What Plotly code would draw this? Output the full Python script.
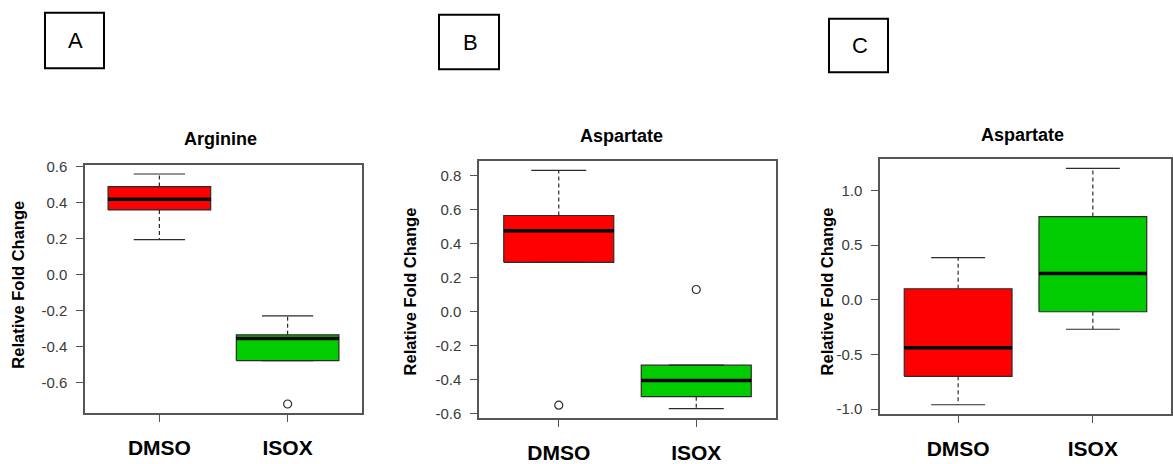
import plotly.graph_objects as go

# ---- data -------------------------------------------------------------
categories = ["DMSO", "ISOX"]
panel_letters = ["A", "B", "C"]
panel_titles = ["Arginine", "Aspartate", "Aspartate"]
y_label = "Relative Fold Change"

# five-number summaries per panel, one entry per category (DMSO, ISOX)
lower_whisker = [[0.195, -0.478], [0.29, -0.57], [-0.96, -0.27]]
q1_values = [[0.36, -0.478], [0.29, -0.50], [-0.70, -0.11]]
median_values = [[0.42, -0.355], [0.475, -0.405], [-0.44, 0.24]]
q3_values = [[0.49, -0.335], [0.565, -0.315], [0.10, 0.76]]
upper_whisker = [[0.56, -0.23], [0.83, -0.315], [0.385, 1.20]]
outlier_values = [[[], [-0.72]], [[-0.55], [0.13]], [[], []]]

y_tick_values = [
    [-0.6, -0.4, -0.2, 0.0, 0.2, 0.4, 0.6],
    [-0.6, -0.4, -0.2, 0.0, 0.2, 0.4, 0.6, 0.8],
    [-1.0, -0.5, 0.0, 0.5, 1.0],
]

# ---- styling / layout -------------------------------------------------
W, H = 1173, 464
FONT = "Liberation Sans"
fill_colors = ["#FF0000", "#00CC00"]
EDGE = "#2b2b2b"
FRAME = "#555555"
BOX_HALF = 0.4      # half box width in category units
CAP_HALF = 0.2      # half staple width

# plot rectangles in pixels: (left, top, right, bottom)
plot_px = [(85, 162, 362, 417), (479, 158, 776, 422), (880, 156, 1171, 418)]
title_px = [(220, 135), (621, 132), (1022, 131)]
ylabel_px = [(18, 285), (410, 292), (827, 292)]
letter_box_px = [(45, 6, 104, 63), (439, 8, 499, 64), (829, 12, 888, 67)]


def px_x(x):
    return x / W


def px_y(y):
    return 1 - y / H


fig = go.Figure()
layout = dict(
    width=W, height=H,
    margin=dict(l=0, r=0, t=0, b=0),
    paper_bgcolor="white", plot_bgcolor="white",
    showlegend=False,
    annotations=[], shapes=[],
)

for p in range(3):
    suffix = "" if p == 0 else str(p + 1)
    xa, ya = "x" + suffix, "y" + suffix
    for j in range(len(categories)):
        c = j + 1
        lo, a, m, b, hi = (lower_whisker[p][j], q1_values[p][j], median_values[p][j],
                           q3_values[p][j], upper_whisker[p][j])
        # box body
        fig.add_trace(go.Scatter(
            x=[c - BOX_HALF, c + BOX_HALF, c + BOX_HALF, c - BOX_HALF, c - BOX_HALF],
            y=[a, a, b, b, a], mode="lines", fill="toself",
            fillcolor=fill_colors[j], line=dict(color=EDGE, width=1.2),
            xaxis=xa, yaxis=ya, hoverinfo="skip"))
        # dashed whiskers
        fig.add_trace(go.Scatter(
            x=[c, c, None, c, c], y=[b, hi, None, a, lo], mode="lines",
            line=dict(color=EDGE, width=1.2, dash="4px,3px"),
            xaxis=xa, yaxis=ya, hoverinfo="skip"))
        # staples
        fig.add_trace(go.Scatter(
            x=[c - CAP_HALF, c + CAP_HALF, None, c - CAP_HALF, c + CAP_HALF],
            y=[hi, hi, None, lo, lo], mode="lines",
            line=dict(color=EDGE, width=1.2),
            xaxis=xa, yaxis=ya, hoverinfo="skip"))
        # median
        fig.add_trace(go.Scatter(
            x=[c - BOX_HALF, c + BOX_HALF], y=[m, m], mode="lines",
            line=dict(color="black", width=3.5),
            xaxis=xa, yaxis=ya, hoverinfo="skip"))
        # outliers
        if outlier_values[p][j]:
            fig.add_trace(go.Scatter(
                x=[c] * len(outlier_values[p][j]), y=outlier_values[p][j],
                mode="markers",
                marker=dict(symbol="circle-open", size=8, color=EDGE, line=dict(width=1.2)),
                xaxis=xa, yaxis=ya, hoverinfo="skip"))

    # R-style axis limits: data range padded by 4 %
    all_vals = lower_whisker[p] + upper_whisker[p] + sum(outlier_values[p], [])
    vmin, vmax = min(all_vals), max(all_vals)
    pad = 0.04 * (vmax - vmin)
    n = len(categories)
    xpad = 0.04 * n

    left, top, right, bottom = plot_px[p]
    layout["xaxis" + suffix] = dict(
        domain=[px_x(left), px_x(right)], anchor=ya,
        range=[0.5 - xpad, n + 0.5 + xpad],
        tickmode="array", tickvals=list(range(1, n + 1)), ticktext=categories,
        ticks="outside", ticklen=7, tickwidth=1.2, tickcolor=FRAME,
        ticklabelstandoff=8,
        tickfont=dict(family=FONT, size=21, color="black", weight="bold"),
        showline=True, linecolor=FRAME, linewidth=1.5, mirror=True,
        showgrid=False, zeroline=False, fixedrange=True,
    )
    layout["yaxis" + suffix] = dict(
        domain=[px_y(bottom), px_y(top)], anchor=xa,
        range=[vmin - pad, vmax + pad],
        tickmode="array", tickvals=y_tick_values[p],
        ticktext=[f"{v:.1f}" for v in y_tick_values[p]],
        ticks="outside", ticklen=7, tickwidth=1.2, tickcolor=FRAME,
        ticklabelstandoff=6,
        tickfont=dict(family=FONT, size=15, color="#3a3a3a"),
        showline=True, linecolor=FRAME, linewidth=1.5, mirror=True,
        showgrid=False, zeroline=False, fixedrange=True,
    )

    tx, ty = title_px[p]
    layout["annotations"].append(dict(
        text=panel_titles[p], x=px_x(tx), y=px_y(ty), xref="paper", yref="paper",
        xanchor="center", yanchor="middle", showarrow=False,
        font=dict(family=FONT, size=18, color="black", weight="bold")))

    lx, ly = ylabel_px[p]
    layout["annotations"].append(dict(
        text=y_label, x=px_x(lx), y=px_y(ly), xref="paper", yref="paper",
        xanchor="center", yanchor="middle", showarrow=False, textangle=-90,
        font=dict(family=FONT, size=16.5, color="black", weight="bold")))

    bx0, by0, bx1, by1 = letter_box_px[p]
    layout["shapes"].append(dict(
        type="rect", xref="paper", yref="paper",
        x0=px_x(bx0), x1=px_x(bx1), y0=px_y(by1), y1=px_y(by0),
        line=dict(color="black", width=2), fillcolor="white"))
    layout["annotations"].append(dict(
        text=panel_letters[p], x=px_x((bx0 + bx1) / 2 + 1), y=px_y((by0 + by1) / 2),
        xref="paper", yref="paper", xanchor="center", yanchor="middle",
        showarrow=False, font=dict(family=FONT, size=22, color="black")))

fig.update_layout(**layout)
fig.write_html("out.html")
